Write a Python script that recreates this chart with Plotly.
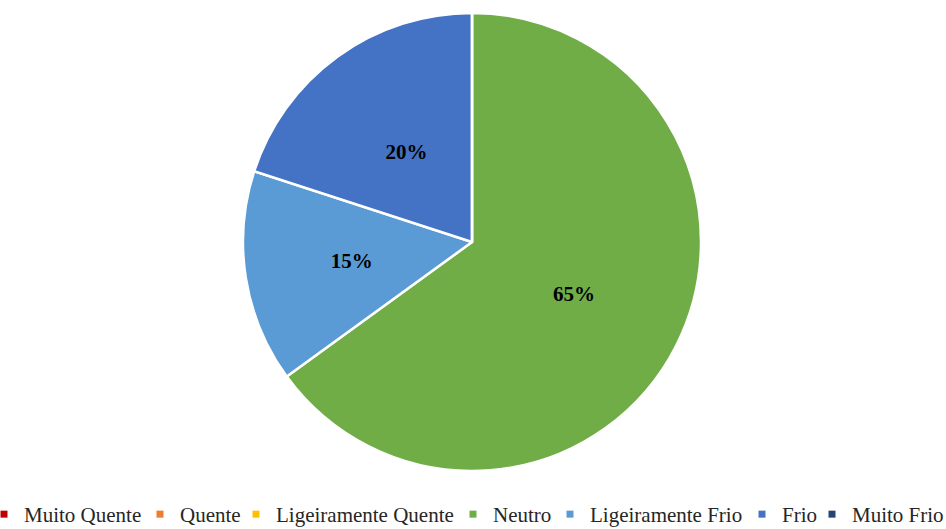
import plotly.graph_objects as go

categories = ["Muito Quente", "Quente", "Ligeiramente Quente", "Neutro",
              "Ligeiramente Frio", "Frio", "Muito Frio"]
values = [0, 0, 0, 65, 15, 20, 0]
colors = ["#C00000", "#ED7D31", "#FFC000", "#70AD47", "#5B9BD5", "#4472C4", "#264478"]
# left edge (px) of each legend entry's text in the reference
legend_text_x = [24, 180, 276, 493, 590, 782, 852]

W, H = 946, 529
cx, cy, r = 472, 242, 229
r_lbl = 177  # radius of a transparent overlay pie used to place the smaller labels

def dom(rad):
    return dict(x=[(cx - rad) / W, (cx + rad) / W], y=[(H - cy - rad) / H, (H - cy + rad) / H])

big = max(values)
lbl_font = dict(family="Liberation Serif", size=21, color="black", weight="bold")

fig = go.Figure()
fig.add_trace(go.Pie(
    labels=categories, values=values, sort=False, direction="clockwise", rotation=0,
    marker=dict(colors=colors, line=dict(color="white", width=2.5)),
    texttemplate=[("%{percent:.0%}" if v == big else "") for v in values],
    textposition="inside", insidetextorientation="horizontal", textfont=lbl_font,
    showlegend=False, hoverinfo="label+percent", domain=dom(r),
))
fig.add_trace(go.Pie(
    labels=categories, values=values, sort=False, direction="clockwise", rotation=0,
    marker=dict(colors=["rgba(0,0,0,0)"] * len(values), line=dict(width=0)),
    texttemplate=[("%{percent:.0%}" if 0 < v < big else "") for v in values],
    textposition="inside", insidetextorientation="horizontal", textfont=lbl_font,
    showlegend=False, hoverinfo="skip", domain=dom(r_lbl),
))

legend_layout = {}
for i, (name, col, tx) in enumerate(zip(categories, colors, legend_text_x)):
    key = "legend" if i == 0 else f"legend{i + 1}"
    fig.add_trace(go.Scatter(x=[None], y=[None], mode="markers", name=name, legend=key,
                             marker=dict(symbol="square", size=7, color=col)))
    legend_layout[key] = dict(
        orientation="h", x=(tx - 40) / W, xanchor="left", y=-6 / H, yanchor="bottom",
        font=dict(size=21, family="Liberation Serif", color="#262626"),
        itemwidth=30, bgcolor="rgba(0,0,0,0)", borderwidth=0,
    )

fig.update_layout(
    width=W, height=H, margin=dict(l=0, r=0, t=0, b=0, autoexpand=False),
    paper_bgcolor="white", plot_bgcolor="white",
    xaxis=dict(visible=False), yaxis=dict(visible=False),
    font=dict(family="Liberation Serif", color="#262626"),
    **legend_layout,
)
fig.write_html("out.html", config={"displayModeBar": False},
               post_script="document.body.style.margin='0';")
